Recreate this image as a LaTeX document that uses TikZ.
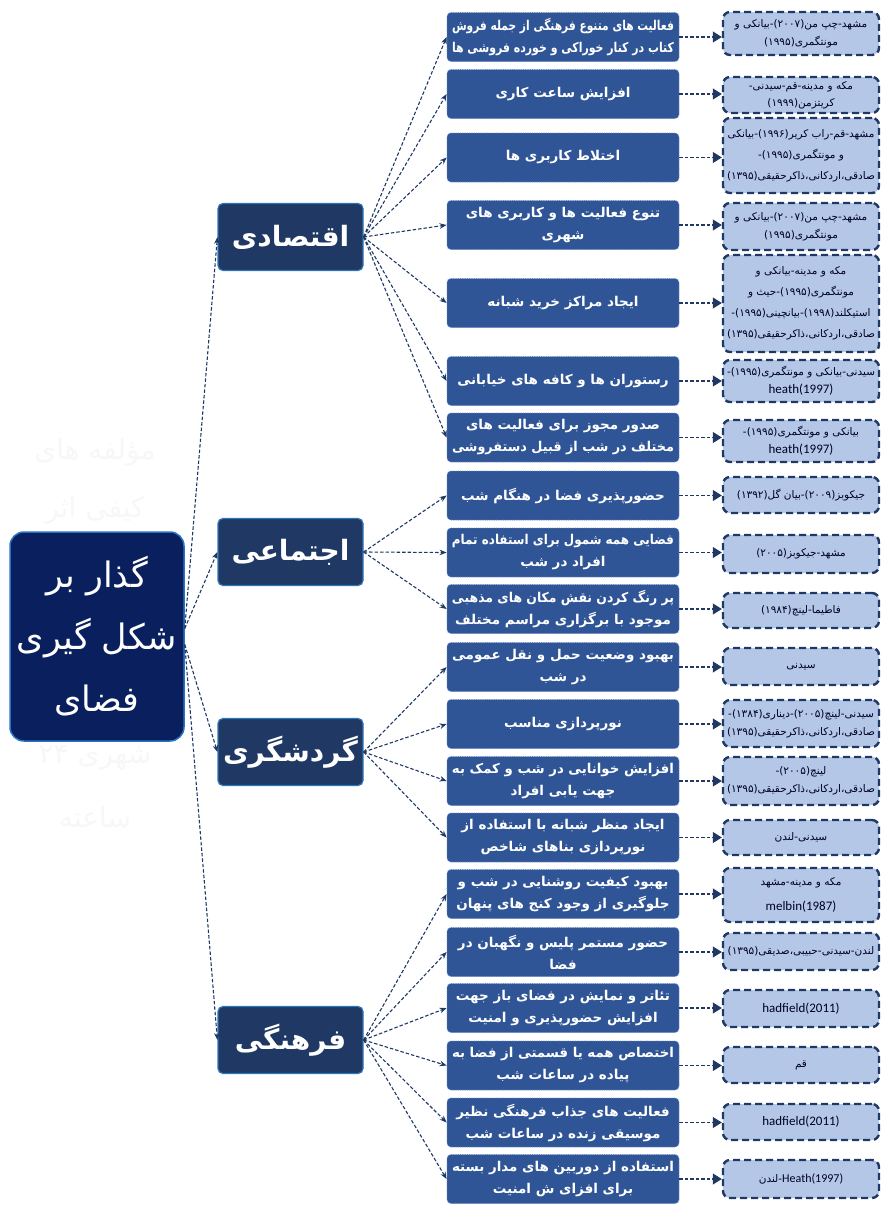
\documentclass[tikz,border=0pt]{standalone}
\usepackage{fontspec}
\usepackage{graphicx}
\setmainfont{DejaVu Sans}
\newfontfamily\fafont[Script=Arabic]{DejaVu Sans}
\newfontfamily\latf{Carlito}
\TeXXeTstate=1
\usetikzlibrary{arrows.meta}
\definecolor{rootc}{HTML}{0A1F5E}
\definecolor{rootedge}{HTML}{2A72C4}
\definecolor{catc}{HTML}{1F3864}
\definecolor{catedge}{HTML}{2E75B6}
\definecolor{midc}{HTML}{2F5597}
\definecolor{midedge}{HTML}{6A8CC8}
\definecolor{refc}{HTML}{B4C7E7}
\definecolor{lineblue}{HTML}{1F3864}
\newsavebox\fitb
\newcommand{\fa}[1]{{\fafont\beginR #1\endR}}
\newcommand{\fitto}[2]{\sbox\fitb{#2}\ifdim\wd\fitb>#1\resizebox{#1}{\ht\fitb}{\usebox\fitb}\else\usebox\fitb\fi}
\newcommand{\mf}[1]{\fitto{222pt}{\fa{#1}}}
\newcommand{\rf}[1]{\fitto{148pt}{\fa{#1}}}
\newcommand{\la}[1]{{\latf\fontsize{13}{18}\selectfont #1}}
\begin{document}
\begin{tikzpicture}[x=1pt,y=-1pt,
 conn/.style={draw=lineblue, line width=1.1pt, dash pattern=on 3.5pt off 2pt},
 tipS/.style={-{Stealth[length=7pt,width=5.5pt]}},
 tipT/.style={-{Triangle[length=9pt,width=11pt]}},
 rootbox/.style={fill=rootc, draw=rootedge, line width=1.5pt, rounded corners=14pt, minimum width=174pt, minimum height=209pt, text=white, align=center, font=\fontsize{35}{62}\selectfont},
 catbox/.style={fill=catc, draw=catedge, line width=1.2pt, rounded corners=5pt, minimum width=145pt, minimum height=67pt, text=white, font=\bfseries\fontsize{28}{30}\selectfont},
 midbox/.style={fill=midc, draw=midedge, line width=0.8pt, densely dotted, rounded corners=4pt, minimum width=232pt, minimum height=49pt, text=white, align=center, font=\bfseries\fontsize{13.5}{22}\selectfont, inner sep=2pt},
 refbox/.style={fill=refc, draw=lineblue, line width=2.4pt, dash pattern=on 7pt off 4pt, rounded corners=7pt, minimum width=156pt, text=black!85!blue, align=center, font=\fontsize{10.5}{18}\selectfont, inner sep=2pt},
 ghost/.style={text=black!3, font=\fontsize{28}{30}\selectfont}
]
\useasboundingbox (0,0) rectangle (881,1205);

% faint overflow text behind the root
\node[ghost] (g1) at (95,452) {\fa{مؤلفه های}};
\node[ghost] (g2) at (95,510) {\fa{کیفی اثر}};
\node[ghost] (g3) at (95,758) {\fa{شهری ۲۴}};
\node[ghost] (g4) at (95,817) {\fa{ساعته}};

% root
\node[rootbox] (root) at (97,636.5) {\fa{گذار بر}\\\fa{شکل گیری}\\\fa{فضای}};

% categories
\node[catbox] (c1) at (290.5,237) {\fa{اقتصادی}};
\node[catbox] (c2) at (290.5,552) {\fa{اجتماعی}};
\node[catbox] (c3) at (290.5,752) {\fa{گردشگری}};
\node[catbox] (c4) at (290.5,1040) {\fa{فرهنگی}};

% middle column
\node[midbox] (m1) at (563,37) {\mf{فعالیت های متنوع فرهنگی از جمله فروش}\\\mf{کتاب در کنار خوراکی و خورده فروشی ها}};
\node[midbox] (m2) at (563,94) {\mf{افزایش ساعت کاری}};
\node[midbox] (m3) at (563,157.5) {\mf{اختلاط کاربری ها}};
\node[midbox] (m4) at (563,225) {\mf{تنوع فعالیت ها و کاربری های}\\\mf{شهری}};
\node[midbox] (m5) at (563,303) {\mf{ایجاد مراکز خرید شبانه}};
\node[midbox] (m6) at (563,381) {\mf{رستوران ها و کافه های خیابانی}};
\node[midbox] (m7) at (563,437.5) {\mf{صدور مجوز برای فعالیت های}\\\mf{مختلف در شب از قبیل دستفروشی}};
\node[midbox] (m8) at (563,495.5) {\mf{حضورپذیری فضا در هنگام شب}};
\node[midbox] (m9) at (563,552.5) {\mf{فضایی همه شمول برای استفاده تمام}\\\mf{افراد در شب}};
\node[midbox] (m10) at (563,609) {\mf{پر رنگ کردن نقش مکان های مذهبی}\\\mf{موجود با برگزاری مراسم مختلف}};
\node[midbox] (m11) at (563,667) {\mf{بهبود وضعیت حمل و نقل عمومی}\\\mf{در شب}};
\node[midbox] (m12) at (563,724) {\mf{نورپردازی مناسب}};
\node[midbox] (m13) at (563,781) {\mf{افزایش خوانایی در شب و کمک به}\\\mf{جهت یابی افراد}};
\node[midbox] (m14) at (563,837.5) {\mf{ایجاد منظر شبانه با استفاده از}\\\mf{نورپردازی بناهای شاخص}};
\node[midbox] (m15) at (563,894) {\mf{بهبود کیفیت روشنایی در شب و}\\\mf{جلوگیری از وجود کنج های پنهان}};
\node[midbox] (m16) at (563,952) {\mf{حضور مستمر پلیس و نگهبان در}\\\mf{فضا}};
\node[midbox] (m17) at (563,1008) {\mf{تئاتر و نمایش در فضای باز جهت}\\\mf{افزایش حضورپذیری و امنیت}};
\node[midbox] (m18) at (563,1065.5) {\mf{اختصاص همه یا قسمتی از فضا به}\\\mf{پیاده در ساعات شب}};
\node[midbox] (m19) at (563,1122.5) {\mf{فعالیت های جذاب فرهنگی نظیر}\\\mf{موسیقی زنده در ساعات شب}};
\node[midbox] (m20) at (563,1179) {\mf{استفاده از دوربین های مدار بسته}\\\mf{برای افزای ش امنیت}};

% reference column
\node[refbox, minimum height=43pt] (r1) at (801,33.5) {\rf{مشهد-چپ من(۲۰۰۷)-بیانکی و}\\\rf{مونتگمری(۱۹۹۵)}};
\node[refbox, minimum height=36pt, font=\fontsize{10.5}{17}\selectfont] (r2) at (801,95) {\rf{مکه و مدینه-قم-سیدنی-}\\\rf{کریتزمن(۱۹۹۹)}};
\node[refbox, minimum height=75pt, font=\fontsize{10.5}{21}\selectfont] (r3) at (801,155.5) {\rf{مشهد-قم-راب کریر(۱۹۹۶)-بیانکی}\\\rf{و مونتگمری(۱۹۹۵)-}\\\rf{صادقی،اردکانی،ذاکرحقیقی(۱۳۹۵)}};
\node[refbox, minimum height=47pt] (r4) at (801,226.5) {\rf{مشهد-چپ من(۲۰۰۷)-بیانکی و}\\\rf{مونتگمری(۱۹۹۵)}};
\node[refbox, minimum height=97pt, font=\fontsize{10.5}{21}\selectfont] (r5) at (801,303.5) {\rf{مکه و مدینه-بیانکی و}\\\rf{مونتگمری(۱۹۹۵)-حیث و}\\\rf{استیکلند(۱۹۹۸)-بیانچینی(۱۹۹۵)-}\\\rf{صادقی،اردکانی،ذاکرحقیقی(۱۳۹۵)}};
\node[refbox, minimum height=42pt] (r6) at (801,381) {\rf{سیدنی-بیانکی و مونتگمری(۱۹۹۵)-}\\\la{heath(1997)}};
\node[refbox, minimum height=42pt] (r7) at (801,441) {\rf{بیانکی و مونتگمری(۱۹۹۵)-}\\\la{heath(1997)}};
\node[refbox, minimum height=36pt] (r8) at (801,495) {\rf{جیکوبز(۲۰۰۹)-بیان گل(۱۳۹۲)}};
\node[refbox, minimum height=38pt] (r9) at (801,554) {\rf{مشهد-جیکوبز(۲۰۰۵)}};
\node[refbox, minimum height=35pt] (r10) at (801,610.5) {\rf{فاطیما-لینچ(۱۹۸۴)}};
\node[refbox, minimum height=37pt] (r11) at (801,666.5) {\rf{سیدنی}};
\node[refbox, minimum height=47pt] (r12) at (801,723.5) {\rf{سیدنی-لینچ(۲۰۰۵)-دیناری(۱۳۸۴)-}\\\rf{صادقی،اردکانی،ذاکرحقیقی(۱۳۹۵)}};
\node[refbox, minimum height=48pt] (r13) at (801,781) {\rf{لینچ(۲۰۰۵)-}\\\rf{صادقی،اردکانی،ذاکرحقیقی(۱۳۹۵)}};
\node[refbox, minimum height=35pt] (r14) at (801,837.5) {\rf{سیدنی-لندن}};
\node[refbox, minimum height=54pt, font=\fontsize{10.5}{25}\selectfont] (r15) at (801,895) {\rf{مکه و مدینه-مشهد}\\\la{melbin(1987)}};
\node[refbox, minimum height=37pt] (r16) at (801,951.5) {\rf{لندن-سیدنی-حبیبی،صدیقی(۱۳۹۵)}};
\node[refbox, minimum height=37pt] (r17) at (801,1008.5) {\la{hadfield(2011)}};
\node[refbox, minimum height=36pt] (r18) at (801,1065) {\rf{قم}};
\node[refbox, minimum height=36pt] (r19) at (801,1122) {\la{hadfield(2011)}};
\node[refbox, minimum height=38pt] (r20) at (801,1179) {\rf{\beginL{\latf\fontsize{12}{14}\selectfont Heath(1997)}\endL-لندن}};

% root -> categories
\coordinate (ru) at ([yshift=8pt]root.east);
\coordinate (rd) at ([yshift=-8pt]root.east);
\draw[conn,tipS] (ru) -- (c1.west);
\draw[conn,tipS] (ru) -- (c2.west);
\draw[conn,tipS] (rd) -- (c3.west);
\draw[conn,tipS] (rd) -- (c4.west);

% categories -> middle
\foreach \m in {1,...,7} \draw[conn,tipS] (c1.east) -- (m\m.west);
\foreach \m in {8,9,10} \draw[conn,tipS] (c2.east) -- (m\m.west);
\foreach \m in {11,...,14} \draw[conn,tipS] (c3.east) -- (m\m.west);
\foreach \m in {15,...,20} \draw[conn,tipS] (c4.east) -- (m\m.west);

% middle -> references
\foreach \m in {1,...,20} \draw[conn,tipT] (m\m.east) -- (m\m.east -| r\m.west);
\end{tikzpicture}
\end{document}
